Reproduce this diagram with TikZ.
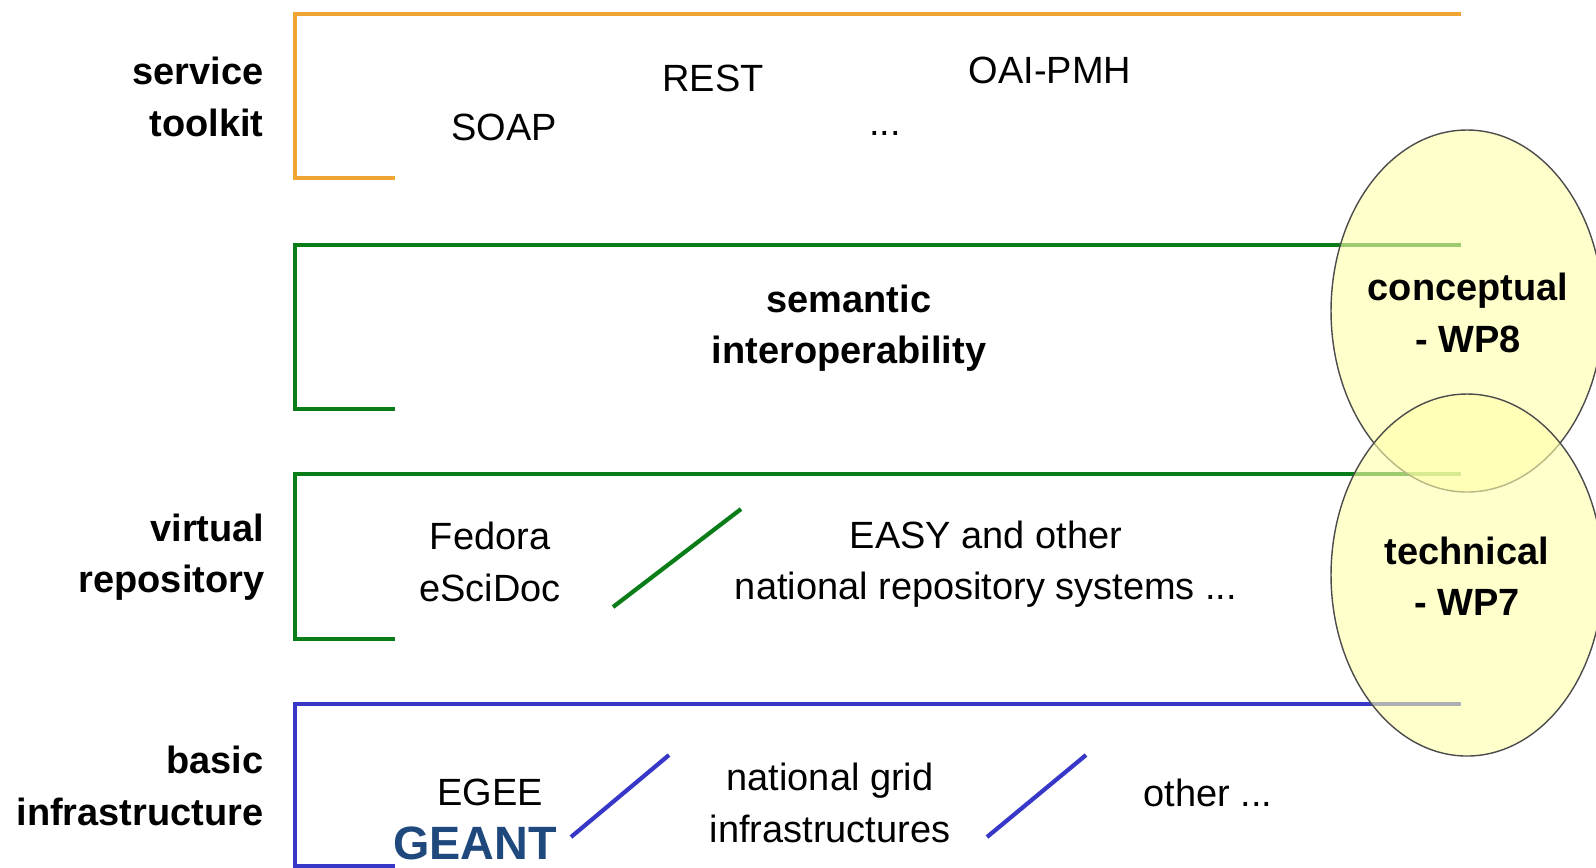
\documentclass[tikz,border=0pt]{standalone}
\usepackage{fontspec}
\setmainfont{Liberation Sans}
\definecolor{tkorange}{RGB}{240,165,50}
\definecolor{vrgreen}{RGB}{10,125,25}
\definecolor{biblue}{RGB}{55,55,200}
\definecolor{geantblue}{RGB}{31,73,125}
\definecolor{wpyellow}{RGB}{255,255,170}
\tikzset{
  layer/.style = {line width=1.2pt},
  slash/.style = {line width=1.2pt},
  side/.style  = {font=\fontsize{10.8}{14.6}\selectfont\bfseries, align=right, anchor=east, inner sep=0},
  item/.style  = {font=\fontsize{10.8}{14.6}\selectfont, align=center, inner sep=0},
  wp/.style    = {ellipse, draw=black!70, line width=0.4pt, fill=wpyellow, fill opacity=0.6, text opacity=1,
                  minimum width=27.2mm, minimum height=36.2mm, inner sep=0},
  wplbl/.style = {font=\fontsize{10.8}{14.6}\selectfont\bfseries, align=center, inner sep=0}
}
\usetikzlibrary{shapes.geometric}
\begin{document}
\begin{tikzpicture}[x=0.1mm,y=-0.1mm]
  \useasboundingbox (0,0) rectangle (1596,867);
  \clip (0,0) rectangle (1596,867);
  % layer brackets
  \draw[layer, tkorange] (395,178) -| (295,14) -- (1461,14);
  \draw[layer, vrgreen]  (395,409) -| (295,245) -- (1461,245);
  \draw[layer, vrgreen]  (395,639) -| (295,474) -- (1461,474);
  \draw[layer, biblue]   (395,866) -| (295,704) -- (1461,704);
  % side labels
  \node[side] (st) at (264,97)  {service\\toolkit};
  \node[side] (vr) at (265,557) {virtual\\repository};
  \node[side] (bi) at (264,786) {basic\\infrastructure};
  % service toolkit
  \node[item] (soap) at (504,127) {SOAP};
  \node[item] (rest) at (713,78)  {REST};
  \node[item] (oai)  at (1050,70) {OAI-PMH};
  \node[item, anchor=base] (etc) at (885,135) {...};
  % semantic
  \node[item, font=\fontsize{10.8}{14.6}\selectfont\bfseries] (sem) at (849,328) {semantic\\interoperability};
  % virtual repository
  \node[item] (fed)  at (490,562) {Fedora\\eSciDoc};
  \node[item] (easy) at (986,564) {EASY and other\\national repository systems ...};
  \coordinate (g1) at (613,607); \coordinate (g2) at (741,509);
  \draw[slash, vrgreen] (g1) -- (g2);
  % basic infrastructure
  \node[item] (egee)  at (490,792)  {EGEE};
  \node[item, font=\fontsize{13.3}{16}\selectfont\bfseries, text=geantblue] (geant) at (475,843) {GEANT};
  \node[item] (ngrid) at (830,803)  {national grid\\infrastructures};
  \node[item] (oth)   at (1208,793) {other ...};
  \coordinate (b1) at (571,837); \coordinate (b2) at (669,755);
  \coordinate (b3) at (987,837); \coordinate (b4) at (1086,755);
  \draw[slash, biblue] (b1) -- (b2);
  \draw[slash, biblue] (b3) -- (b4);
  % work packages
  \node[wp] (wp8) at (1467,311) {};
  \node[wp] (wp7) at (1467,575) {};
  \node[wplbl] (wp8t) at (1468,313) {conceptual\\- WP8};
  \node[wplbl] (wp7t) at (1467,576) {technical\\- WP7};
\end{tikzpicture}
\end{document}
